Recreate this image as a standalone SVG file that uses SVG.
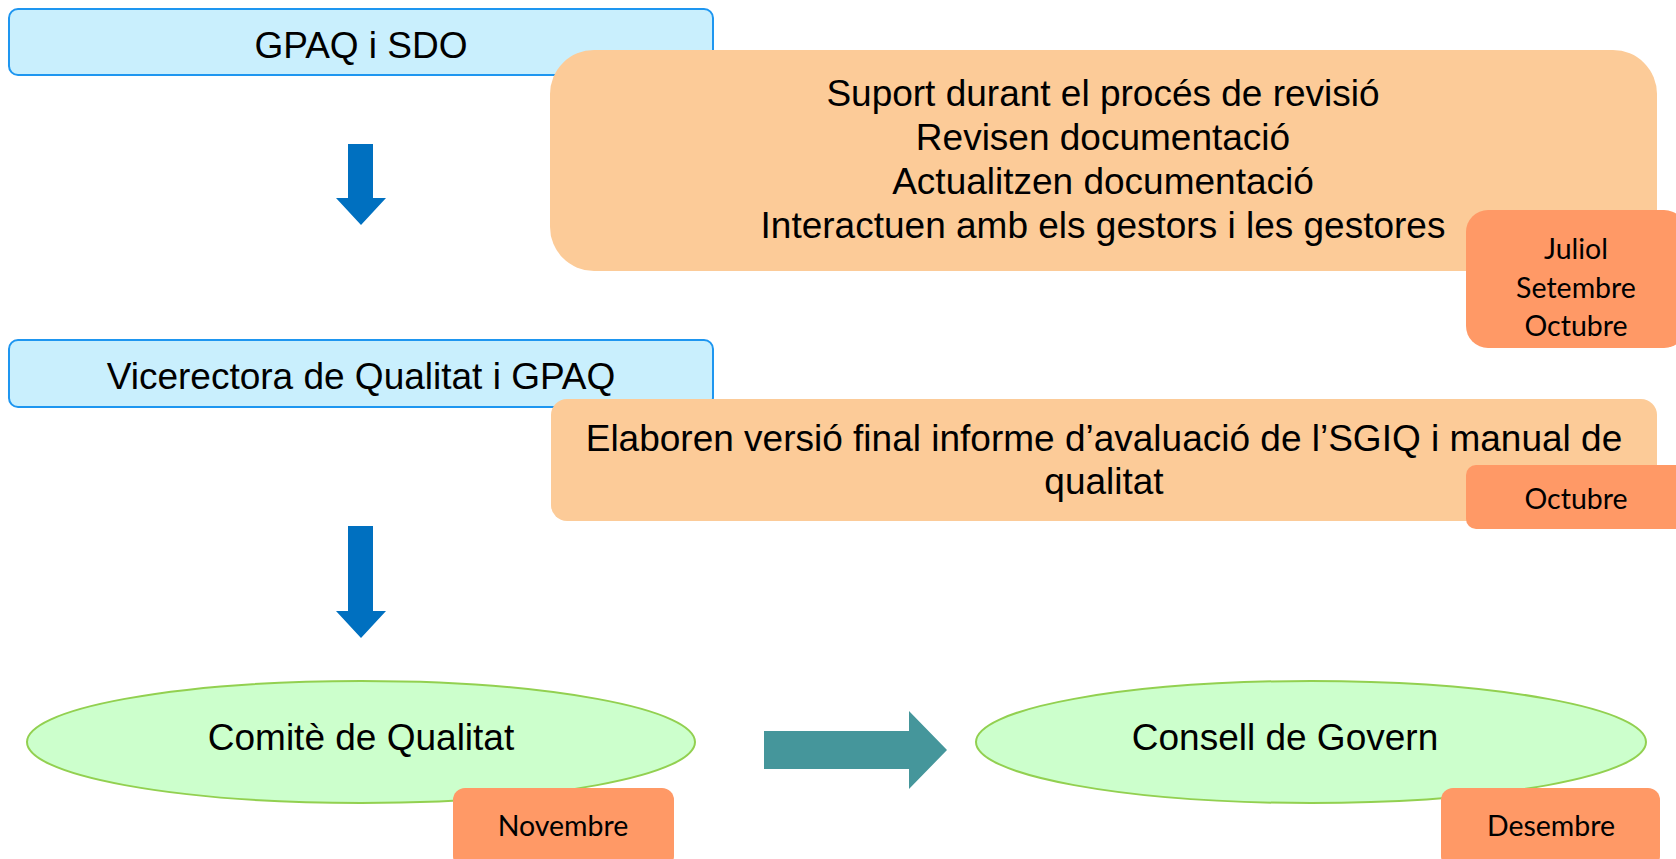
<svg xmlns="http://www.w3.org/2000/svg" width="1676" height="859" viewBox="0 0 1676 859">
<style>
.blue{fill:#C9EFFD;stroke:#1E96F0;stroke-width:2}
.peach{fill:#FCCB98}
.date{fill:#FF9966}
.oval{fill:#CCFFCC;stroke:#92D050;stroke-width:2}
.t{font-family:"Liberation Sans",Arial,sans-serif;font-size:37px;fill:#000;text-anchor:middle}
.d{font-family:Lato,"Liberation Sans",sans-serif;font-size:28.5px;fill:#000;text-anchor:middle}
.down{fill:#0070C0}
.right{fill:#45969B}
</style>
<rect width="1676" height="859" fill="#fff"/>
<g id="gpaq-sdo">
<rect class="blue" x="9" y="9" width="704" height="66" rx="9"/>
<text class="t" x="361" y="58">GPAQ i SDO</text>
</g>
<g id="suport">
<rect class="peach" x="550" y="50" width="1107" height="221" rx="44"/>
<text class="t" x="1103" y="106">Suport durant el procés de revisió</text>
<text class="t" x="1103" y="150">Revisen documentació</text>
<text class="t" x="1103" y="194">Actualitzen documentació</text>
<text class="t" x="1103" y="238">Interactuen amb els gestors i les gestores</text>
</g>
<g id="date1">
<rect class="date" x="1466" y="210" width="220" height="138" rx="22"/>
<text class="d" x="1576" y="259">Juliol</text>
<text class="d" x="1576" y="298">Setembre</text>
<text class="d" x="1576" y="336">Octubre</text>
</g>
<g id="vicerectora">
<rect class="blue" x="9" y="340" width="704" height="67" rx="9"/>
<text class="t" x="361" y="389">Vicerectora de Qualitat i GPAQ</text>
</g>
<g id="elaboren">
<rect class="peach" x="551" y="399" width="1106" height="122" rx="16"/>
<text class="t" x="1104" y="451">Elaboren versió final informe d’avaluació de l’SGIQ i manual de</text>
<text class="t" x="1104" y="494">qualitat</text>
</g>
<g id="date2">
<rect class="date" x="1466" y="465" width="220" height="64" rx="10"/>
<text class="d" x="1576" y="509">Octubre</text>
</g>
<g id="comite">
<ellipse class="oval" cx="361" cy="742" rx="334" ry="61"/>
<text class="t" x="361" y="750">Comitè de Qualitat</text>
</g>
<g id="date3">
<rect class="date" x="453" y="788" width="221" height="80" rx="12"/>
<text class="d" x="563" y="836">Novembre</text>
</g>
<g id="consell">
<ellipse class="oval" cx="1311" cy="742" rx="335" ry="61"/>
<text class="t" x="1285" y="750">Consell de Govern</text>
</g>
<g id="date4">
<rect class="date" x="1441" y="788" width="219" height="80" rx="12"/>
<text class="d" x="1551" y="836">Desembre</text>
</g>
<g id="connectors">
<polygon class="down" points="348,144 373,144 373,198 386,198 361,225 336,198 348,198"/>
<polygon class="down" points="348,526 373,526 373,611 386,611 361,638 336,611 348,611"/>
<polygon class="right" points="764,731 909,731 909,711 947,750 909,789 909,769 764,769"/>
</g>
</svg>
